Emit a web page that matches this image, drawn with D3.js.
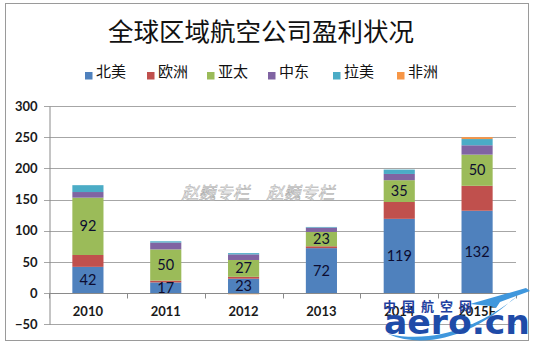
<!DOCTYPE html>
<html><head><meta charset="utf-8">
<script src="https://cdn.jsdelivr.net/npm/d3@7"></script>
<style>body{margin:0;background:#fff}svg{display:block}</style>
</head><body>
<svg id="c" width="537" height="347"></svg>
<script>
const years = ["2010","2011","2012","2013","2014","2015F"];
const seriesNames = ["北美","欧洲","亚太","中东","拉美","非洲"];
const northAmerica = [42,17,23,72,119,132];
const europe       = [19,3,3,3,27,40];
const asiaPacific  = [92,50,27,23,35,50];
const middleEast   = [9,11,9,7,10,15];
const latinAmerica = [11,2,2,1,7,10];
const africa       = [0,0,-2,0,0,3];
const yTicks = [-50,0,50,100,150,200,250,300];
const colors = ["#4F81BD","#C0504D","#9BBB59","#8064A2","#4BACC6","#F79646"];
const labeled = ["北美","亚太"];

const allSeries = [northAmerica,europe,asiaPacific,middleEast,latinAmerica,africa];
const rows = years.map((y,i)=>{const r={year:y};seriesNames.forEach((s,j)=>r[s]=allSeries[j][i]);return r;});

const svg = d3.select("#c");
svg.append("rect").attr("x",5.5).attr("y",3.5).attr("width",523).attr("height",337)
  .attr("fill","#fff").attr("stroke","#9a9a9a");

const x = d3.scaleBand().domain(years).range([49,516]).paddingInner(0.6).paddingOuter(0.3);
const y = d3.scaleLinear().domain([-50,300]).range([324.2,106]);
const color = d3.scaleOrdinal().domain(seriesNames).range(colors);

// title
svg.append("text").attr("x",261).attr("y",41).attr("text-anchor","middle")
  .style("font-family","'Noto Sans CJK SC'").style("font-size","25.5px").attr("fill","#111")
  .text("全球区域航空公司盈利状况");

// legend
const legX = [85,147,207,268,333,397];
const leg = svg.append("g");
seriesNames.forEach((s,i)=>{
  const g = leg.append("g").attr("transform",`translate(${legX[i]},0)`);
  g.append("rect").attr("x",0).attr("y",72).attr("width",7.5).attr("height",7.5).attr("fill",color(s));
  g.append("text").attr("x",11).attr("y",77).style("font-family","'Noto Sans CJK SC'")
   .style("font-size","15px").attr("fill","#111").text(s);
});

// gridlines
svg.append("g").selectAll("line").data(yTicks).join("line")
  .attr("x1",44).attr("x2",516).attr("y1",d=>Math.round(y(d))+0.5).attr("y2",d=>Math.round(y(d))+0.5)
  .attr("stroke","#a6a6a6");

// watermark
svg.append("text").attr("x",258).attr("y",199).attr("text-anchor","middle")
  .style("font-family","'Noto Sans CJK SC'").style("font-size","17px").style("font-style","italic")
  .attr("fill","#ececec").attr("stroke","#a8a8a8").attr("stroke-width",0.45)
  .text("赵巍专栏　赵巍专栏");

// y axis
const yAxis = d3.axisLeft(y).tickValues(yTicks).tickSize(0).tickPadding(12);
const ya = svg.append("g").attr("transform","translate(49.5,0)").call(yAxis);
ya.select(".domain").attr("stroke","#8a8a8a");
ya.selectAll("text").style("font-family","Lato").style("font-size","13px").style("font-weight","bold").attr("fill","#1a1a1a");

// bars
const stack = d3.stack().keys(seriesNames).offset(d3.stackOffsetDiverging);
const stacked = stack(rows);
const bars = svg.append("g");
stacked.forEach(layer=>{
  bars.selectAll(null).data(layer).join("rect")
    .attr("x",d=>x(d.data.year)).attr("width",x.bandwidth())
    .attr("y",d=>y(Math.max(d[0],d[1]))).attr("height",d=>Math.abs(y(d[0])-y(d[1])))
    .attr("fill",color(layer.key));
});

// x axis
const xa = svg.append("g").attr("transform",`translate(0,${Math.round(y(0))+0.5})`);
xa.append("line").attr("x1",49).attr("x2",516).attr("stroke","#8a8a8a");
const bounds = years.map((d,i)=>49+i*x.step()).concat([516]);
xa.selectAll("line.t").data(bounds).join("line").attr("class","t")
  .attr("x1",d=>Math.round(d)+0.5).attr("x2",d=>Math.round(d)+0.5).attr("y1",0).attr("y2",5).attr("stroke","#8a8a8a");
svg.append("g").selectAll("text").data(years).join("text")
  .attr("x",d=>x(d)+x.bandwidth()/2).attr("y",316).attr("text-anchor","middle")
  .style("font-family","Lato").style("font-size","13px").style("font-weight","bold").attr("fill","#1a1a1a")
  .text(d=>d);

// value labels
stacked.filter(l=>labeled.includes(l.key)).forEach(layer=>{
  svg.append("g").selectAll("text").data(layer).join("text")
    .attr("x",d=>x(d.data.year)+x.bandwidth()/2).attr("y",d=>y((d[0]+d[1])/2)+5)
    .attr("text-anchor","middle").style("font-family","Lato").style("font-size","14.5px")
    .attr("fill","#0c0c30").text(d=>d.data[layer.key]);
});

// logo
const logo = svg.append("g");
logo.append("path").attr("d","M388,334 C430,352 480,330 512,300 L518,296 C485,322 440,345 388,334 Z")
  .attr("fill","#3f97dd");
logo.append("path").attr("d","M470,304 L526,288 L530,291 L500,302 L496,308 L490,306 Z").attr("fill","#3f97dd");
logo.append("text").attr("x",383).attr("y",311).style("font-family","'Noto Sans CJK SC'")
  .style("font-size","13px").style("font-weight","bold").attr("letter-spacing","6px").attr("fill","#1f3f9f")
  .text("中国航空网");
logo.append("text").attr("x",384).attr("y",334).style("font-family","'DejaVu Sans'")
  .style("font-size","34px").style("font-weight","bold").attr("fill","#1f4ba8")
  .attr("textLength",146).attr("lengthAdjust","spacingAndGlyphs").text("aero.cn");
</script>
</body></html>
